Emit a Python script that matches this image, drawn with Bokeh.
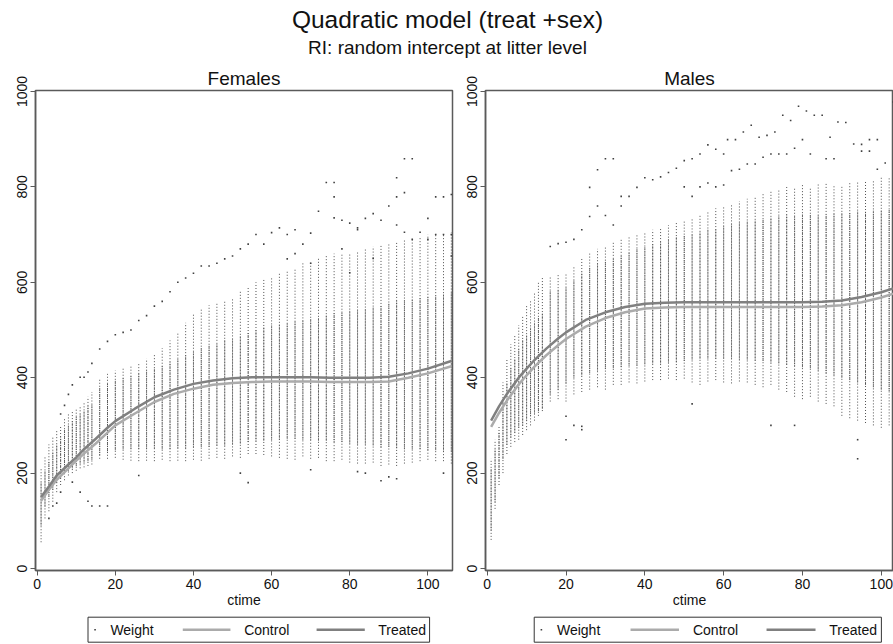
import math
from bokeh.plotting import figure
from bokeh.models import Range1d, FixedTicker
from bokeh.layouts import column, row
from bokeh.core.properties import value
from bokeh.embed import file_html
from bokeh.resources import INLINE

FONT = "Liberation Sans"

# ---------------- data ----------------
x_ticks = [0, 20, 40, 60, 80, 100]
y_ticks = [0, 200, 400, 600, 800, 1000]

# observation times (ctime) of the weight columns
col_x = [1, 2, 3, 4, 5, 6, 7, 8, 9, 10, 11, 12, 13, 14,
         16, 18, 20, 22, 24, 26, 28, 30, 32, 34, 36, 38, 40, 42, 44, 46, 48, 50,
         52, 54, 56, 58, 60, 62, 64, 66, 68, 70, 72, 74, 76, 78, 80, 82, 84, 86,
         88, 90, 92, 94, 96, 98, 100, 102, 104, 106]

# Females: spread of observed weights in each column (outer range and dense core)
fem_lo = [55, 105, 120, 140, 160, 175, 185, 195, 200, 205, 210, 212, 215, 218,
          230, 230, 232, 228, 226, 225, 226, 225, 228, 225, 226, 225, 228, 226, 230, 232, 230, 235,
          232, 240, 240, 238, 235, 232, 230, 228, 235, 230, 232, 225, 225, 228, 222, 220, 220, 222,
          215, 218, 215, 220, 222, 225, 228, 225, 225, 220]
fem_core_lo = [90, 130, 150, 165, 180, 190, 200, 205, 210, 215, 220, 222, 225, 228,
               238, 242, 248, 250, 250, 250, 250, 252, 250, 250, 252, 252, 254, 255, 255, 258, 258, 260,
               262, 265, 268, 268, 270, 270, 272, 272, 270, 270, 268, 268, 265, 265, 262, 260, 260, 258,
               255, 255, 252, 250, 250, 250, 248, 248, 245, 245]
fem_core_hi = [180, 205, 225, 245, 260, 275, 290, 300, 310, 320, 325, 330, 340, 345,
               378, 388, 395, 400, 405, 410, 415, 420, 425, 432, 440, 448, 455, 462, 468, 472, 478, 482,
               488, 494, 500, 505, 510, 512, 515, 518, 520, 523, 525, 530, 535, 538, 540, 542, 545, 548,
               550, 555, 560, 562, 565, 568, 570, 572, 575, 580]
fem_hi = [210, 235, 260, 275, 290, 300, 315, 325, 330, 335, 340, 350, 360, 370,
          398, 408, 415, 420, 425, 432, 440, 450, 462, 478, 495, 515, 535, 545, 552, 556, 560, 565,
          583, 590, 600, 605, 612, 618, 625, 630, 640, 645, 650, 655, 660, 660, 662, 665, 670, 675,
          680, 680, 685, 688, 690, 695, 700, 700, 700, 705]

# Females: isolated weights outside the columns
fem_out_x = [6, 7, 8, 9, 11, 12, 13, 14, 16, 18, 20, 22, 24, 26, 28, 30, 32, 34, 36, 38, 40, 42, 44, 46,
             48, 50, 52, 54, 56, 58, 60, 62, 64, 66, 68, 70, 72, 74, 76, 76, 76, 78, 80, 82, 84, 86, 88,
             90, 92, 92, 94, 96, 94, 100, 102, 104, 106, 64, 66, 70, 78, 80, 82, 86, 92, 94, 96, 98, 100,
             102, 104, 106, 106,
             3, 4, 5, 6, 9, 11, 13, 14, 16, 18, 26, 52, 54, 70, 82, 84, 88, 90, 92, 104]
fem_out_y = [324, 342, 365, 385, 401, 401, 412, 430, 460, 476, 490, 495, 500, 520, 530, 550, 560, 580, 600,
             609, 619, 634, 634, 640, 649, 655, 670, 680, 700, 680, 704, 714, 700, 710, 680, 703, 749, 809,
             809, 779, 735, 730, 724, 714, 734, 744, 730, 760, 819, 779, 859, 859, 788, 734, 779, 779, 784,
             649, 660, 640, 670, 620, 710, 650, 720, 705, 690, 705, 690, 700, 700, 700, 655,
             105, 131, 137, 160, 181, 160, 141, 131, 131, 131, 195, 200, 180, 207, 203, 200, 184, 192, 188, 200]

# Males: spread of observed weights in each column
mal_lo = [60, 125, 175, 200, 240, 255, 265, 270, 280, 290, 300, 310, 320, 330,
          350, 355, 350, 365, 370, 375, 380, 375, 385, 385, 390, 388, 392, 395, 395, 398, 395, 398,
          390, 385, 392, 395, 390, 388, 392, 390, 385, 380, 385, 375, 370, 360, 355, 360, 350, 345,
          340, 320, 315, 310, 305, 300, 295, 300, 300, 300]
mal_core_lo = [80, 140, 190, 230, 260, 275, 285, 295, 300, 310, 320, 325, 330, 335,
               365, 375, 388, 400, 405, 410, 415, 418, 420, 422, 425, 425, 428, 430, 430, 432, 432, 435,
               438, 440, 440, 440, 440, 440, 438, 438, 436, 435, 432, 430, 428, 425, 422, 420, 415, 410,
               405, 400, 395, 390, 385, 380, 375, 372, 370, 368]
mal_core_hi = [210, 250, 285, 350, 390, 420, 440, 460, 480, 490, 505, 515, 525, 535,
               583, 585, 590, 605, 620, 630, 640, 645, 650, 655, 662, 670, 675, 680, 685, 690, 695, 698,
               700, 705, 710, 712, 718, 722, 725, 728, 730, 733, 735, 738, 740, 740, 742, 742, 740, 742,
               745, 745, 745, 748, 748, 750, 750, 752, 752, 755]
mal_hi = [230, 270, 300, 390, 440, 470, 490, 510, 530, 550, 560, 580, 600, 610,
          610, 615, 620, 635, 650, 660, 670, 675, 685, 690, 695, 700, 705, 710, 715, 720, 725, 728,
          735, 740, 748, 755, 760, 765, 770, 775, 780, 785, 790, 795, 800, 800, 805, 800, 805, 810,
          805, 800, 808, 810, 812, 815, 820, 820, 825, 830]

# Males: isolated weights outside the columns
mal_out_x = [16, 18, 20, 22, 24, 26, 28, 30, 32, 34, 38, 40, 42, 44, 46, 48, 50, 52, 54, 56, 58, 60, 61, 63,
             65, 67, 69, 71, 73, 75, 77, 79, 81, 83, 85, 87, 89, 91, 93, 95, 97, 99, 103,
             26, 28, 30, 32, 34, 36,
             50, 52, 54, 56, 58, 60, 62, 64, 66, 68, 70, 72, 74, 76, 78, 80, 82, 86, 88, 95, 97, 99, 101,
             20, 22, 24, 52, 72, 78, 94, 94, 20, 24]
mal_out_y = [675, 681, 684, 690, 710, 799, 836, 859, 859, 780, 799, 819, 815, 821, 830, 839, 855, 859, 869,
             888, 879, 869, 899, 899, 915, 929, 904, 908, 915, 950, 939, 969, 959, 950, 950, 904, 936, 935,
             890, 889, 899, 899, 978,
             738, 760, 740, 720, 760, 780,
             800, 780, 800, 808, 800, 804, 834, 837, 848, 848, 862, 869, 869, 869, 881, 899, 869, 859, 859,
             875, 875, 837, 850,
             270, 300, 291, 345, 300, 300, 270, 230, 319, 298]

# fitted curves (quadratic model, random intercept at litter level)
fit_x = [1, 3, 5, 8, 10, 12, 15, 18, 20, 25, 30, 35, 40, 45, 50, 55, 60, 65, 70, 75, 80, 85, 90, 95,
         100, 106]
fem_control = [142, 165, 186, 210, 226, 241, 262, 285, 300, 325, 349, 366, 377, 385, 389, 391, 392, 392,
               392, 391, 391, 391, 392, 400, 409, 424]
fem_treated = [150, 172, 195, 218, 233, 250, 272, 295, 309, 335, 359, 375, 387, 394, 399, 401, 401, 401,
               401, 400, 400, 400, 402, 409, 419, 435]
mal_control = [297, 326, 352, 386, 405, 423, 447, 468, 481, 507, 525, 537, 545, 547, 548, 548, 548, 548,
               548, 548, 548, 549, 552, 558, 568, 584]
mal_treated = [310, 340, 366, 400, 419, 437, 461, 482, 495, 521, 537, 548, 555, 557, 558, 558, 558, 558,
               558, 558, 558, 559, 562, 569, 579, 595]

# ---------------- styling ----------------
FRAME = "#5a5a5a"
DOT = "#404040"
COL = "#505050"
C_CONTROL = "#ababab"
C_TREATED = "#808080"


def make_panel(name, width, frame_left, border_right, x_end, lo, core_lo, core_hi, hi,
               ox, oy, control, treated, title_offset):
    p = figure(width=width, height=550, x_range=Range1d(-0.43, x_end),
               y_range=Range1d(-4.2, 1002), output_backend="svg", toolbar_location=None,
               min_border_left=frame_left, min_border_right=border_right,
               min_border_top=28, min_border_bottom=42)
    p.title.text = name
    p.title.align = "center"
    p.title.text_font = FONT
    p.title.text_font_size = "19px"
    p.title.text_font_style = "normal"
    p.title.text_color = "#111111"
    p.title.standoff = 4
    p.title.offset = title_offset
    p.grid.visible = False
    p.outline_line_color = FRAME
    p.outline_line_width = 1.5
    p.background_fill_color = "white"
    p.border_fill_color = "white"

    for ax in (p.xaxis[0], p.yaxis[0]):
        ax.axis_line_color = FRAME
        ax.axis_line_width = 1.5
        ax.major_tick_line_color = FRAME
        ax.major_tick_out = 5
        ax.major_tick_in = 0
        ax.minor_tick_line_color = None
        ax.major_label_text_font = FONT
        ax.major_label_text_font_size = "14px"
        ax.major_label_text_color = "#111111"
        ax.major_label_standoff = 3

    p.xaxis.ticker = FixedTicker(ticks=x_ticks)
    p.yaxis.ticker = FixedTicker(ticks=y_ticks)
    p.yaxis.major_label_orientation = "vertical"
    p.xaxis.axis_label = "ctime"
    p.xaxis.axis_label_text_font = FONT
    p.xaxis.axis_label_text_font_size = "14px"
    p.xaxis.axis_label_text_font_style = "normal"
    p.xaxis.axis_label_text_color = "#111111"
    p.xaxis.axis_label_standoff = 0

    # weight columns: sparse outer range and dense core
    p.segment(x0=col_x, y0=lo, x1=col_x, y1=hi, line_color=COL, line_width=1,
              line_dash="1 2")
    p.segment(x0=col_x, y0=core_lo, x1=col_x, y1=core_hi, line_color=COL, line_width=1,
              line_dash="1 1")
    p.scatter(x=ox, y=oy, marker="square", size=1.6, fill_color=DOT, line_color=None)

    p.line(fit_x, control, line_color=C_CONTROL, line_width=2.5)
    p.line(fit_x, treated, line_color=C_TREATED, line_width=2.5)
    return p


def make_legend(width, frame_left):
    lg = figure(width=width, height=32, x_range=Range1d(0, width), y_range=Range1d(0, 32),
                output_backend="svg", toolbar_location=None, x_axis_type=None, y_axis_type=None,
                min_border=0, outline_line_color=None)
    lg.grid.visible = False
    fl = frame_left
    lg.quad(left=[fl + 22.3], right=[fl + 395], bottom=[2.3], top=[27.3],
            fill_color=None, line_color="#333333", line_width=1)
    lg.scatter(x=[fl + 30], y=[14.8], marker="square", size=1.6, fill_color=DOT, line_color=None)
    lg.segment(x0=[fl + 125.7], y0=[14.8], x1=[fl + 177.7], y1=[14.8],
               line_color=C_CONTROL, line_width=2.5)
    lg.segment(x0=[fl + 271.7], y0=[14.8], x1=[fl + 324.3], y1=[14.8],
               line_color=C_TREATED, line_width=2.5)
    lg.text(x=[fl + 46.7, fl + 192.7, fl + 339], y=[14.8, 14.8, 14.8],
            text=["Weight", "Control", "Treated"], text_font=value(FONT),
            text_font_size="14px", text_baseline="middle", text_align="left",
            text_color="#111111")
    return lg


header = figure(width=893, height=62, x_range=Range1d(0, 893), y_range=Range1d(0, 62),
                output_backend="svg", toolbar_location=None, x_axis_type=None,
                y_axis_type=None, min_border=0, outline_line_color=None)
header.grid.visible = False
header.text(x=[447], y=[43], text=["Quadratic model (treat +sex)"], text_font=value(FONT),
            text_font_size="24.5px", text_align="center", text_baseline="middle", text_color="#111111")
header.text(x=[447], y=[15], text=["RI: random intercept at litter level"], text_font=value(FONT),
            text_font_size="19px", text_align="center", text_baseline="middle", text_color="#111111")

pf = make_panel("Females", 455, 35, 3, 106.3, fem_lo, fem_core_lo, fem_core_hi, fem_hi,
                fem_out_x, fem_out_y, fem_control, fem_treated, 0)
pm = make_panel("Males", 438, 30, 0, 103.1, mal_lo, mal_core_lo, mal_core_hi, mal_hi,
                mal_out_x, mal_out_y, mal_control, mal_treated, 5)
lf = make_legend(455, 35)
lm = make_legend(438, 30)

layout = column(header, row(column(pf, lf), column(pm, lm)))
open("out.html", "w").write(file_html(layout, INLINE))
